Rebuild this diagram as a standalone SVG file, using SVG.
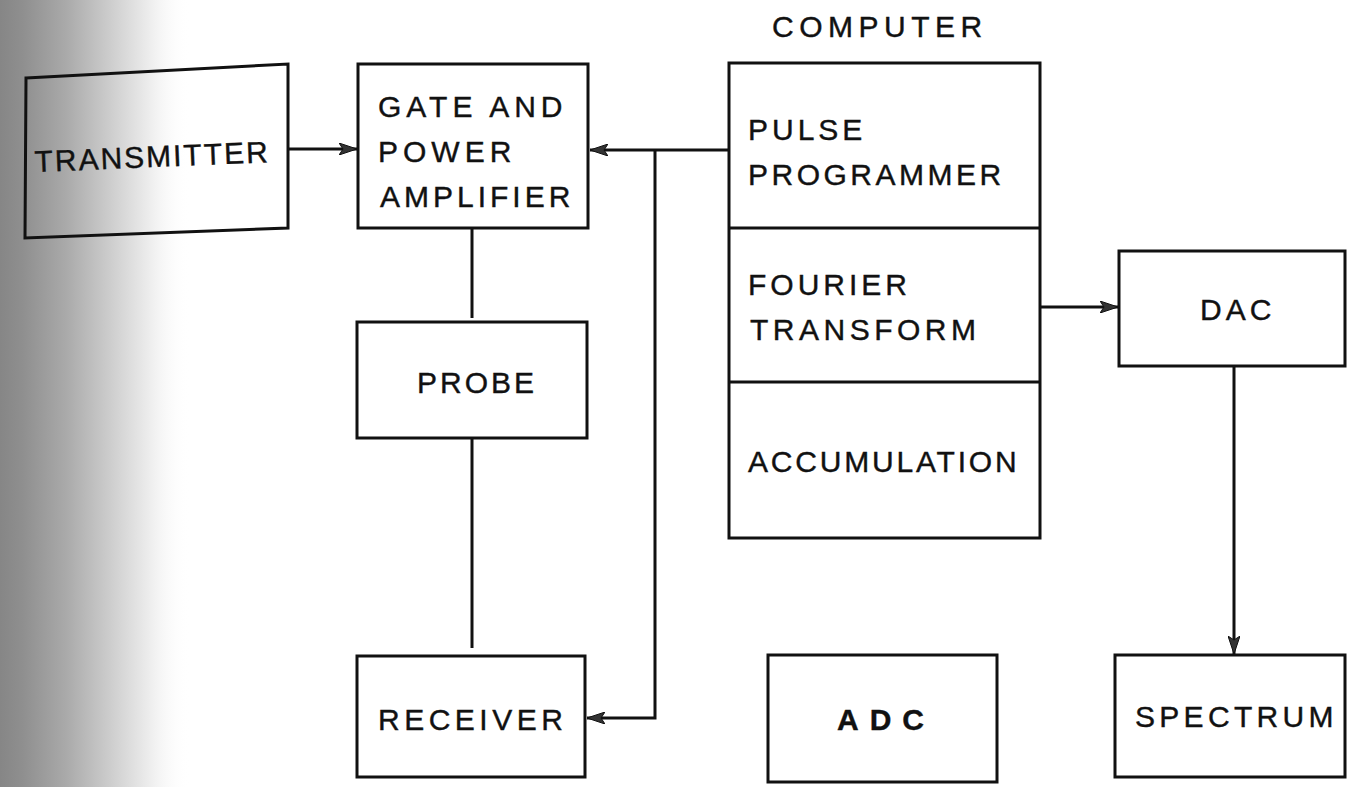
<svg xmlns="http://www.w3.org/2000/svg" width="1347" height="787" viewBox="0 0 1347 787">
  <defs>
    <linearGradient id="edgeShade" x1="0" y1="0" x2="1" y2="0">
      <stop offset="0" stop-color="#868686"/>
      <stop offset="0.12" stop-color="#8f8f8f"/>
      <stop offset="0.35" stop-color="#aaaaaa"/>
      <stop offset="0.58" stop-color="#cdcdcd"/>
      <stop offset="0.78" stop-color="#ececec"/>
      <stop offset="1" stop-color="#ffffff" stop-opacity="0"/>
    </linearGradient>
    <marker id="arrow" viewBox="0 0 18 12" refX="18" refY="6" markerWidth="18" markerHeight="12" markerUnits="userSpaceOnUse" orient="auto">
      <path d="M0,0 L18,6 L0,12 L4,6 Z" fill="#333" stroke="#111" stroke-width="1"/>
    </marker>
    <style>
      .box { fill: none; stroke: #111; stroke-width: 3; }
      .wire { fill: none; stroke: #111; stroke-width: 3; }
      .lbl { font-family: "Liberation Sans", Arial, sans-serif; font-size: 30px; fill: #111; stroke: #111; stroke-width: 0.4; }
    </style>
  </defs>

  <rect width="1347" height="787" fill="#ffffff"/>
  <!-- shaded left margin -->
  <rect x="0" y="0" width="190" height="787" fill="url(#edgeShade)"/>

  <g id="transmitter">
    <path class="box" d="M26,78 L288,64 L288,228 L25,238 Z"/>
    <text class="lbl" x="35" y="172" letter-spacing="2" transform="rotate(-2.4 35 172)">TRANSMITTER</text>
  </g>

  <g id="gate-amplifier">
    <rect class="box" x="358" y="64" width="230" height="164"/>
    <text class="lbl" x="378" y="117" letter-spacing="5">GATE AND</text>
    <text class="lbl" x="378" y="162" letter-spacing="5">POWER</text>
    <text class="lbl" x="380" y="207" letter-spacing="4">AMPLIFIER</text>
  </g>

  <g id="probe">
    <rect class="box" x="357" y="322" width="230" height="116"/>
    <text class="lbl" x="417" y="393" letter-spacing="3">PROBE</text>
  </g>

  <g id="receiver">
    <rect class="box" x="357" y="656" width="228" height="121"/>
    <text class="lbl" x="378" y="730" letter-spacing="4.5">RECEIVER</text>
  </g>

  <g id="computer">
    <text class="lbl" x="772" y="37" font-size="31" letter-spacing="5.5">COMPUTER</text>
    <rect class="box" x="729" y="63" width="311" height="475"/>
    <line class="box" x1="729" y1="228" x2="1040" y2="228"/>
    <line class="box" x1="729" y1="382" x2="1040" y2="382"/>
    <text class="lbl" x="748" y="140" letter-spacing="4">PULSE</text>
    <text class="lbl" x="748" y="185" letter-spacing="3.5">PROGRAMMER</text>
    <text class="lbl" x="748" y="295" letter-spacing="4">FOURIER</text>
    <text class="lbl" x="750" y="340" letter-spacing="4.5">TRANSFORM</text>
    <text class="lbl" x="748" y="472" letter-spacing="2.8">ACCUMULATION</text>
  </g>

  <g id="dac">
    <path class="box" d="M1345,251 L1119,251 L1119,366 L1345,366 Z"/>
    <text class="lbl" x="1200" y="320" letter-spacing="4">DAC</text>
  </g>

  <g id="adc">
    <rect class="box" x="768" y="655" width="229" height="127"/>
    <text class="lbl" x="837" y="730" font-weight="bold" letter-spacing="11">ADC</text>
  </g>

  <g id="spectrum">
    <rect class="box" x="1115" y="655" width="230" height="122"/>
    <text class="lbl" x="1135" y="727" letter-spacing="4.3">SPECTRUM</text>
  </g>

  <g id="connectors">
    <line class="wire" x1="288" y1="149" x2="357" y2="149" marker-end="url(#arrow)"/>
    <line class="wire" x1="729" y1="150" x2="590" y2="150" marker-end="url(#arrow)"/>
    <polyline class="wire" points="655,150 655,718 587,718" marker-end="url(#arrow)"/>
    <line class="wire" x1="472" y1="228" x2="472" y2="318"/>
    <line class="wire" x1="472" y1="438" x2="472" y2="648"/>
    <line class="wire" x1="1040" y1="307" x2="1118" y2="307" marker-end="url(#arrow)"/>
    <line class="wire" x1="1234" y1="366" x2="1234" y2="654" marker-end="url(#arrow)"/>
  </g>
</svg>
